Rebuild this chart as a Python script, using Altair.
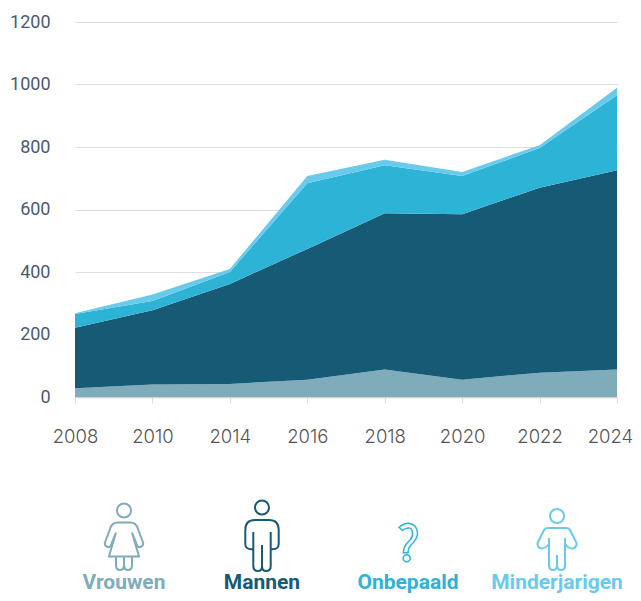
import altair as alt
import pandas as pd

years = ["2008", "2010", "2014", "2016", "2018", "2020", "2022", "2024"]
vrouwen = [28, 40, 42, 55, 88, 55, 78, 88]
mannen = [194, 238, 320, 419, 500, 530, 592, 638]
onbepaald = [44, 29, 38, 210, 154, 122, 127, 240]
minderjarigen = [2, 21, 10, 23, 17, 13, 9, 24]
series = ["Vrouwen", "Mannen", "Onbepaald", "Minderjarigen"]
colors = ["#7FACBA", "#165A75", "#2CB3D5", "#68CBEB"]
y_ticks = [0, 200, 400, 600, 800, 1000, 1200]

rows = []
for k, (name, vals) in enumerate(zip(series, [vrouwen, mannen, onbepaald, minderjarigen])):
    for yr, v in zip(years, vals):
        rows.append({"jaar": yr, "serie": name, "waarde": v, "volgorde": k})
df = pd.DataFrame(rows)

area = alt.Chart(df).mark_area(interpolate="linear", opacity=1).encode(
    x=alt.X("jaar:O", scale=alt.Scale(type="point", domain=years, padding=0),
            axis=alt.Axis(title=None, labelAngle=0, labelFont="Inter", labelFontSize=18.5,
                          labelColor="#555555", labelPadding=24, tickColor="#dddddd", tickSize=6,
                          labelOffset=alt.condition("datum.value == '2024'", alt.value(-7), alt.value(0)),
                          labelBound=False, labelOverlap=False,
                          domainColor="#d0d0d0", domainWidth=1.5, labelFontWeight=300, grid=False)),
    y=alt.Y("waarde:Q", stack="zero", scale=alt.Scale(domain=[0, 1200], nice=False),
            axis=alt.Axis(title=None, values=y_ticks, format="d", labelFont="Roboto", labelFontSize=18,
                          labelColor="#4A5A70", labelPadding=25, domain=False, ticks=False,
                          grid=True, gridColor="#dddddd", gridWidth=1)),
    color=alt.Color("serie:N", scale=alt.Scale(domain=series, range=colors), legend=None),
    order=alt.Order("volgorde:Q", sort="ascending"),
)

woman = ("M-6.5,-17.5L6.5,-17.5Q12,-17.5 14,-11L19,2.5Q20,6 16,7Q14,8 13,5L8,-7.5"
         "M8,-7.5L15,16.5L-15,16.5L-8,-7.5"
         "M-6.5,-17.5Q-12,-17.5 -14,-11L-19,2.5Q-20,6 -16,7Q-14,8 -13,5L-8,-7.5"
         "M-8,16.5L-8,25Q-8,30 -4,30Q0,30 0,25L0,16.5M0,25Q0,30 4,30Q8,30 8,25L8,16.5"
         "M7,-29.5A7,7 0 1 1 -7,-29.5A7,7 0 1 1 7,-29.5Z")
man = ("M-8.7,-8L-8.7,26Q-8.7,31 -4,31Q0,31 0,26L0,5L0,26Q0,31 4,31Q8.7,31 8.7,26L8.7,-8"
       "M-8.7,9Q-16.7,10 -16.7,4L-16.7,-10Q-16.7,-20 -7,-20L7,-20Q16.7,-20 16.7,-10L16.7,4Q16.7,10 8.7,9"
       "M7,-32.5A7,7 0 1 1 -7,-32.5A7,7 0 1 1 7,-32.5Z")
question = ("M-9,-12.7Q-4,-17 1,-16.7Q9.5,-15 9.5,-6.7Q9.5,-1 3,5Q0,8 0,12.7L-4.7,12.7Q-4.7,6 2,0"
            "Q5,-3 4.5,-7Q4,-12 1,-12Q-2,-12.5 -5.5,-9.5Z"
            "M2.2,18.3A3.5,3.5 0 1 1 -4.8,18.3A3.5,3.5 0 1 1 2.2,18.3Z")
child = ("M-8,-2L-8,25Q-8,30 -4,30Q0,30 0,25L0,15L0,25Q0,30 4,30Q8,30 8,25L8,-2"
         "M-9.5,-12L9.5,-12Q12,-12 13,-10L19.5,3Q20,7 16,8.5Q12,9 8,4"
         "M-9.5,-12Q-12,-12 -13,-10L-19.5,3Q-20,7 -16,8.5Q-12,9 -8,4"
         "M7,-24A7,7 0 1 1 -7,-24A7,7 0 1 1 7,-24Z")
icons = [woman, man, question, child]
icon_widths = [2, 2, 1.5, 2]
centers = [49, 187, 333, 482]

layers = [area]
for name, col, icon, sw, cx in zip(series, colors, icons, icon_widths, centers):
    row = alt.Data(values=[{"naam": name}])
    layers.append(alt.Chart(row).mark_point(shape=icon, size=4, filled=False, stroke=col,
                                            strokeWidth=sw, opacity=1).encode(
        x=alt.value(cx), y=alt.value(518)))
    layers.append(alt.Chart(row).mark_text(font="Roboto", fontWeight="bold", fontSize=21,
                                           color=col, baseline="alphabetic", align="center").encode(
        x=alt.value(cx), y=alt.value(566.5), text="naam:N"))

chart = alt.layer(*layers).properties(
    width=542, height=375, background="white",
    padding={"left": 67, "top": 14, "right": 16, "bottom": 196},
    autosize=alt.AutoSizeParams(type="none"),
).configure_view(stroke=None)

chart.save("out.html", embed_options={"renderer": "svg", "actions": False})
